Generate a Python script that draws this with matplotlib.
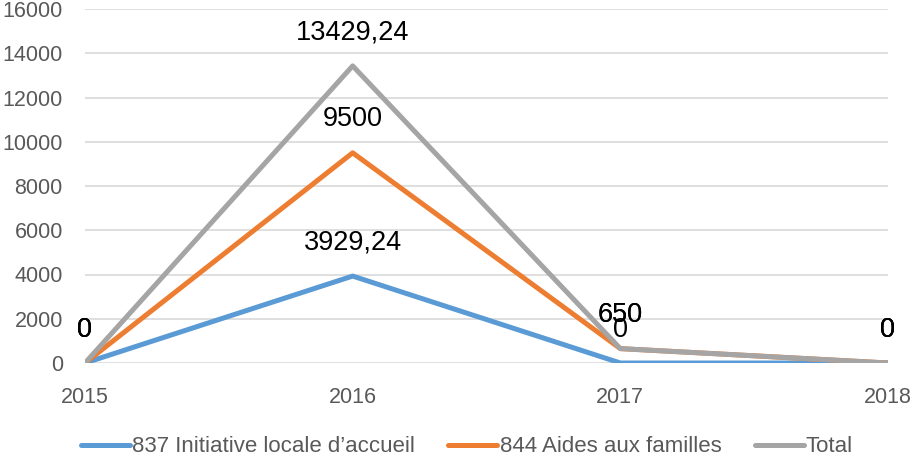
import matplotlib.pyplot as plt
import numpy as np

plt.rcParams['font.family'] = ['Liberation Sans', 'DejaVu Sans']

years = ['2015', '2016', '2017', '2018']
initiative = [0, 3929.24, 0, 0]
aides = [0, 9500, 650, 0]
total = [0, 13429.24, 650, 0]

series = [
    ('837 Initiative locale d\u2019accueil', initiative, '#5B9BD5'),
    ('844 Aides aux familles', aides, '#ED7D31'),
    ('Total', total, '#A5A5A5'),
]


def fmt(v):
    if v == int(v):
        return str(int(v))
    return ('%.2f' % v).replace('.', ',')


fig = plt.figure(figsize=(9.12, 4.58), dpi=100)
ax = fig.add_axes([85 / 912, 1 - 363 / 458, (888 - 85) / 912, (363 - 9) / 458])

x = np.arange(len(years))
for name, vals, col in series:
    ax.plot(x, vals, color=col, lw=3.6, label=name, solid_capstyle='round', zorder=3)
    for xi, v in zip(x, vals):
        ax.annotate(fmt(v), (xi, v), xytext=(0, 24), textcoords='offset points',
                    ha='center', va='center', fontsize=19.5, color='black', zorder=4,
                    annotation_clip=False)

ax.set_xlim(0, 3)
ax.set_ylim(0, 16000)
ax.set_yticks(np.arange(0, 16001, 2000))
ax.set_xticks(x)
ax.set_xticklabels(years)
ax.grid(axis='y', color='#D9D9D9', lw=1.2)
ax.set_axisbelow(True)
for s in ax.spines.values():
    s.set_visible(False)
ax.tick_params(length=0, labelsize=15.5, colors='#595959')
ax.tick_params(axis='y', pad=16)
ax.tick_params(axis='x', pad=17)

leg = fig.legend(loc='center', bbox_to_anchor=(467 / 912, 1 - 447 / 458), ncol=3, frameon=False,
                 fontsize=16, handlelength=2.2, columnspacing=1.5, handletextpad=0.1)
for t in leg.get_texts():
    t.set_color('#595959')

fig.savefig('out.png', dpi=100)
